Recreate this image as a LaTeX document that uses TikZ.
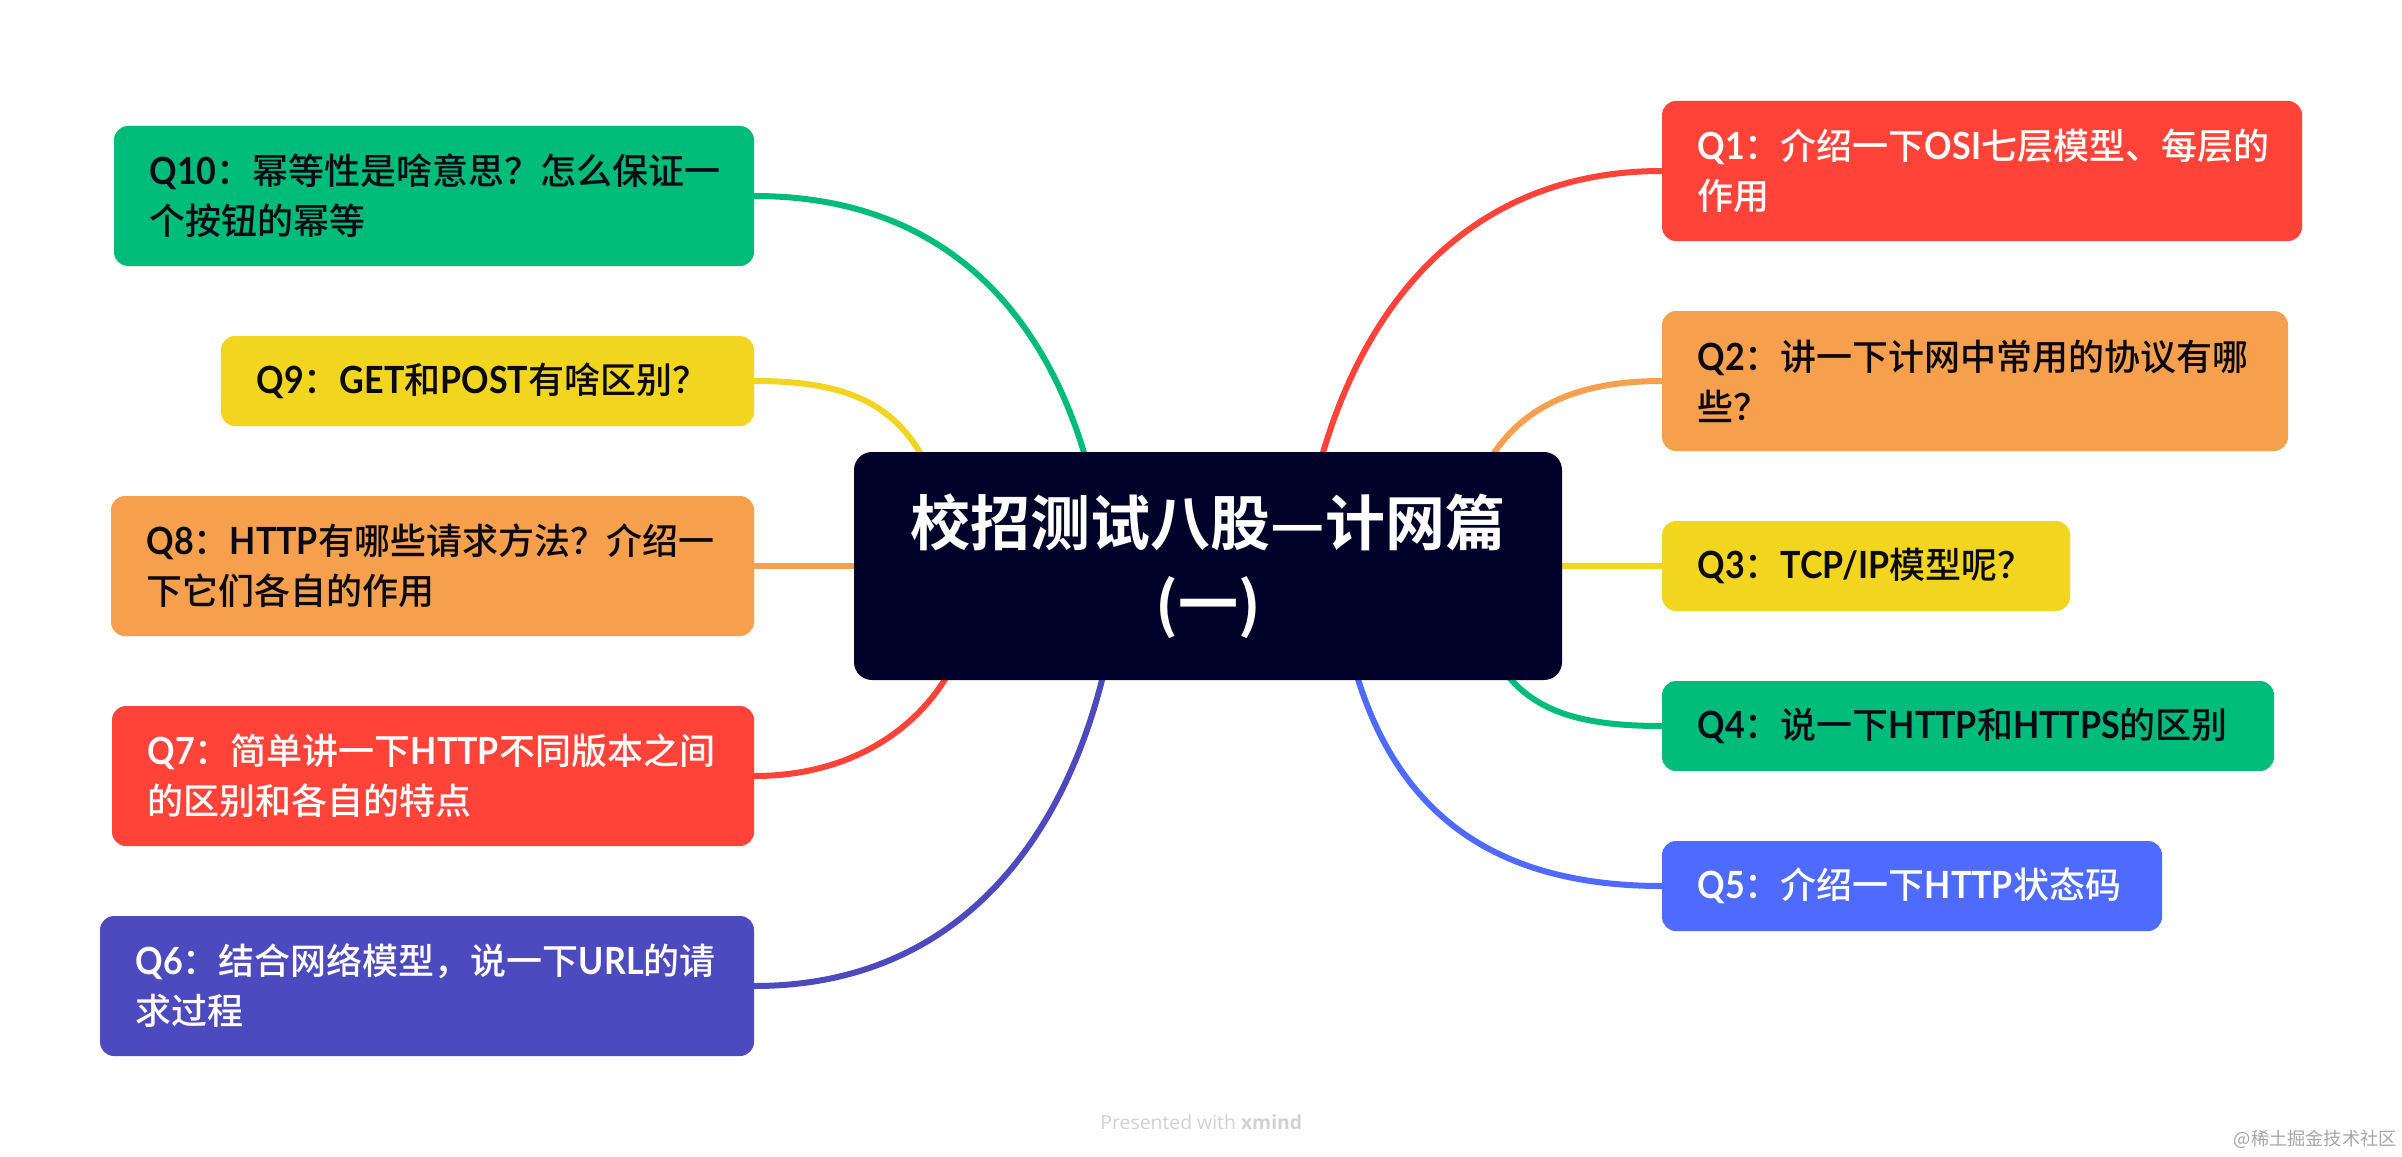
\documentclass[tikz,border=0pt]{standalone}
\usepackage{fontspec}
\setmainfont{Noto Sans CJK SC}[BoldFont={Noto Sans CJK SC Medium}]
\newfontfamily\titlef{Noto Sans CJK SC Bold}
\newfontfamily\latinw{Open Sans}
\newfontfamily\lat{Lato}[Scale=1.04,FakeStretch=0.91]
\newcommand{\La}[1]{{\lat\bfseries #1}}
\usetikzlibrary{backgrounds}
\definecolor{cgreen}{HTML}{00BC7B}
\definecolor{cyellow}{HTML}{F2D51F}
\definecolor{corange}{HTML}{F6A04D}
\definecolor{cred}{HTML}{FF4338}
\definecolor{cblue}{HTML}{4F6BFF}
\definecolor{cpurple}{HTML}{4D49BE}
\definecolor{cdark}{HTML}{000229}
\definecolor{cink}{HTML}{0A0A14}
\tikzset{
  qbox/.style={rounded corners=7pt,inner xsep=17.75pt,inner ysep=0pt,align=left,
    font=\fontsize{18}{25}\selectfont\bfseries},
  darkt/.style={text=cink},
  lightt/.style={text=white},
  h2/.style={minimum height=70pt},
  h1/.style={minimum height=45pt},
  link/.style={line width=3pt,line cap=round},
  central/.style={rounded corners=9pt,fill=cdark,text=white,inner sep=0pt,align=center,
    minimum width=354pt,minimum height=114pt,
    font=\titlef\fontsize{30}{40.5}\selectfont},
  mark1/.style={text=black!18,inner sep=0pt,font=\latinw\fontsize{9.7}{11}\selectfont},
  mark2/.style={text=black!35,inner sep=0pt,font=\fontsize{9.1}{11}\selectfont}
}
\begin{document}
\begin{tikzpicture}[x=0.5pt,y=-0.5pt]
\useasboundingbox (0,0) rectangle (2402,1156);
\node[central] (ctr) at (1208,566) {校招测试八股—计网篇\\(一)};
% right
\node[qbox,h2,lightt,fill=cred,text width=284.5pt] (q1) at (1982,171) {\La{Q1}：介绍一下\La{OSI}七层模型、每层的\\作用};
\node[qbox,h2,darkt,fill=corange,text width=277.5pt] (q2) at (1975,381) {\La{Q2}：讲一下计网中常用的协议有哪\\些？};
\node[qbox,h1,darkt,fill=cyellow,text width=168.5pt] (q3) at (1866,566) {\La{Q3}：\La{TCP/IP}模型呢？};
\node[qbox,h1,darkt,fill=cgreen,text width=270.5pt] (q4) at (1968,726) {\La{Q4}：说一下\La{HTTP}和\La{HTTPS}的区别};
\node[qbox,h1,lightt,fill=cblue,text width=214.5pt] (q5) at (1912,886) {\La{Q5}：介绍一下\La{HTTP}状态码};
% left
\node[qbox,h2,darkt,fill=cgreen,text width=284.5pt] (q10) at (434,196) {\La{Q10}：幂等性是啥意思？怎么保证一\\个按钮的幂等};
\node[qbox,h1,darkt,fill=cyellow,text width=231pt] (q9) at (487.5,381) {\La{Q9}：\La{GET}和\La{POST}有啥区别？};
\node[qbox,h2,darkt,fill=corange,text width=286pt] (q8) at (432.5,566) {\La{Q8}：\La{HTTP}有哪些请求方法？介绍一\\下它们各自的作用};
\node[qbox,h2,lightt,fill=cred,text width=285.5pt] (q7) at (433,776) {\La{Q7}：简单讲一下\La{HTTP}不同版本之间\\的区别和各自的特点};
\node[qbox,h2,lightt,fill=cpurple,text width=291.5pt] (q6) at (427,986) {\La{Q6}：结合网络模型，说一下\La{URL}的请\\求过程};
% connector ends on the central node
\coordinate (e10) at (1085,456);
\coordinate (e9) at (922,456);
\coordinate (e7) at (947,676);
\coordinate (e6) at (1103,676);
\coordinate (e1) at (1322,456);
\coordinate (e2) at (1492,456);
\coordinate (e4) at (1508,676);
\coordinate (e5) at (1357,676);
\begin{scope}[on background layer]
\draw[link,cgreen] (q10.east) .. controls (950,196) and (1045,320) .. (e10);
\draw[link,cyellow] (q9.east) .. controls (840,381) and (890,400) .. (e9);
\draw[link,corange] (q8.east) -- (ctr.west);
\draw[link,cred] (q7.east) .. controls (850,776) and (915,730) .. (e7);
\draw[link,cpurple] (q6.east) .. controls (950,986) and (1060,850) .. (e6);
\draw[link,cred] (q1.west) .. controls (1480,171) and (1370,290) .. (e1);
\draw[link,corange] (q2.west) .. controls (1580,381) and (1525,405) .. (e2);
\draw[link,cyellow] (q3.west) -- (ctr.east);
\draw[link,cgreen] (q4.west) .. controls (1590,726) and (1540,715) .. (e4);
\draw[link,cblue] (q5.west) .. controls (1480,886) and (1395,800) .. (e5);
\end{scope}
\node[mark1,anchor=west] (pw) at (1100,1122) {Presented with \textbf{xmind}};
\node[mark2,anchor=east] (jj) at (2397,1139) {@稀土掘金技术社区};
\end{tikzpicture}
\end{document}
